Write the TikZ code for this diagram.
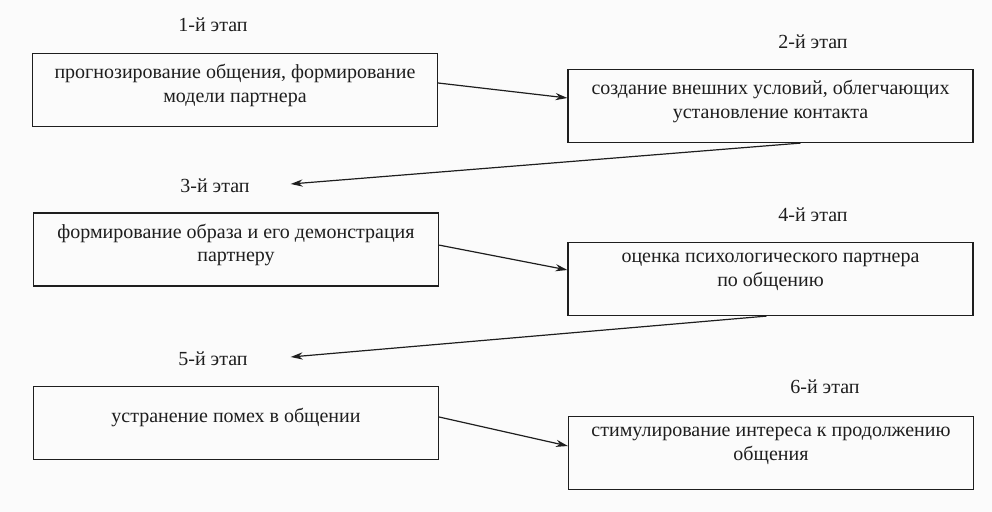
\documentclass[tikz,border=0pt]{standalone}
\usepackage{fontspec}
\setmainfont{Liberation Serif}
\usepackage{xcolor}
\usepackage{tikz}
\usetikzlibrary{arrows.meta,calc}
\definecolor{fundo}{HTML}{FBFBFB}
\definecolor{tinta}{HTML}{1E1E1E}

\begin{document}
\begin{tikzpicture}[x=0.5pt, y=-0.5pt, >={Stealth[length=6pt,width=3.6pt]},
  etapa/.style={draw=tinta, line width=0.6pt, minimum width=202.5pt, minimum height=36.5pt, inner sep=0pt},
  texto/.style={anchor=north, align=center, text=tinta, font=\fontsize{10}{11.6}\selectfont, yshift=-2.3pt},
  rotulo/.style={text=tinta, font=\fontsize{10}{12}\selectfont},
  seta/.style={->, draw=tinta, line width=0.6pt}]
  \fill[fundo] (0,0) rectangle (992,512);
  \useasboundingbox (0,0) rectangle (992,512);
  % caixas
  \node[etapa] (b1) at (235,90) {};
  \node[etapa] (b2) at (770.5,106) {};
  \node[etapa] (b3) at (236,249.5) {};
  \node[etapa] (b4) at (770.5,279) {};
  \node[etapa] (b5) at (236,423) {};
  \node[etapa] (b6) at (771,453) {};
  \node[texto] (t1) at (b1.north) {прогнозирование общения, формирование\\модели партнера};
  \node[texto] (t2) at (b2.north) {создание внешних условий, облегчающих\\установление контакта};
  \node[texto] (t3) at (b3.north) {формирование образа и его демонстрация\\партнеру};
  \node[texto] (t4) at (b4.north) {оценка психологического партнера\\по общению};
  \node[texto, yshift=-5.5pt] (t5) at (b5.north) {устранение помех в общении};
  \node[texto] (t6) at (b6.north) {стимулирование интереса к продолжению\\общения};
  % rótulos
  \node[rotulo] (l1) at (213,25) {1-й этап};
  \node[rotulo] (l2) at (813,42) {2-й этап};
  \node[rotulo] (l3) at (215,186) {3-й этап};
  \node[rotulo] (l4) at (813,215) {4-й этап};
  \node[rotulo] (l5) at (213,359) {5-й этап};
  \node[rotulo] (l6) at (825,387) {6-й этап};
  % setas
  \draw[seta] ([yshift=3.5pt]b1.east) -- ([yshift=4pt]b2.west);
  \draw[seta] ([xshift=15pt]b2.south) -- ([xshift=17pt,yshift=1pt]l3.east);
  \draw[seta] ([yshift=2.2pt]b3.east) -- ([yshift=4.5pt]b4.west);
  \draw[seta] ([xshift=-2pt]b4.south) -- ([xshift=18pt,yshift=1pt]l5.east);
  \draw[seta] ([yshift=3pt]b5.east) -- ([yshift=3.5pt]b6.west);
\end{tikzpicture}
\end{document}
